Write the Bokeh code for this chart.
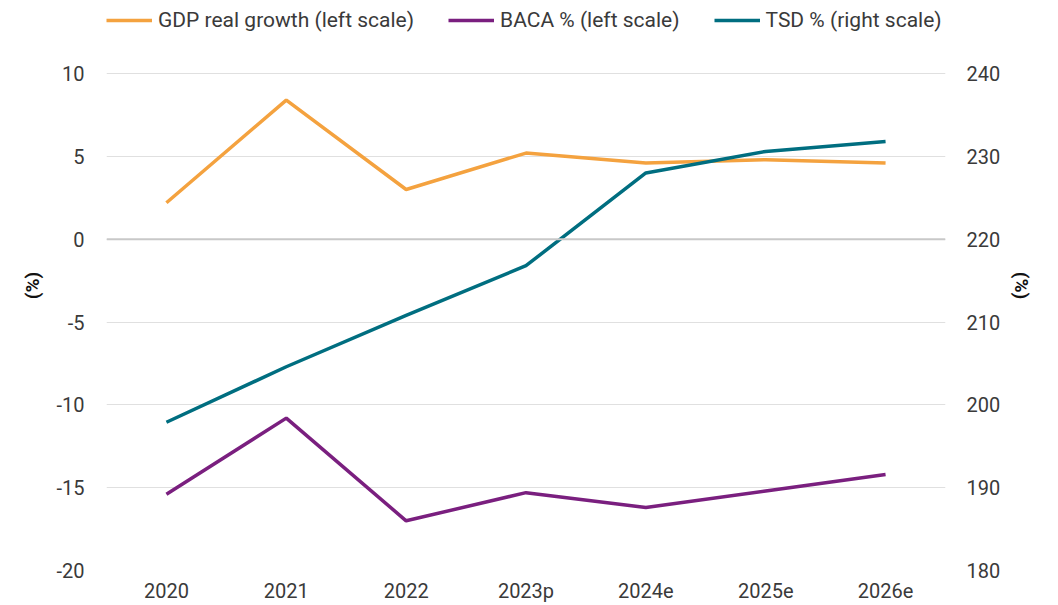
from bokeh.plotting import figure
from bokeh.models import LinearAxis, Range1d, Legend, LegendItem, Span, FixedTicker
from bokeh.embed import file_html
from bokeh.resources import INLINE

categories = ["2020", "2021", "2022", "2023p", "2024e", "2025e", "2026e"]
gdp_growth = [2.2, 8.4, 3.0, 5.2, 4.6, 4.8, 4.6]
baca = [-15.4, -10.8, -17.0, -15.3, -16.2, -15.2, -14.2]
tsd = [197.9, 204.6, 210.8, 216.8, 228.0, 230.6, 231.8]
left_ticks = [-20, -15, -10, -5, 0, 5, 10]
right_ticks = [180, 190, 200, 210, 220, 230, 240]

FONT = "Roboto"
TXT = "#3a3a3a"
FS = "20px"

# frame spans the full height above the x axis; the headroom above 10 / 240 holds the legend
p = figure(x_range=categories, y_range=Range1d(-20, 14.41), width=1058, height=605,
           output_backend="svg", toolbar_location=None,
           min_border_left=106, min_border_right=113, min_border_top=0, min_border_bottom=35)
p.extra_y_ranges = {"right": Range1d(180, 248.82)}
p.outline_line_color = None
p.background_fill_color = "white"

p.yaxis.ticker = FixedTicker(ticks=left_ticks)
p.yaxis.major_label_overrides = {t: str(t) for t in left_ticks}
p.yaxis.axis_label = "(%)"
for ax in [p.xaxis[0], p.yaxis[0]]:
    ax.axis_line_color = None
    ax.major_tick_line_color = None
    ax.minor_tick_line_color = None
    ax.major_label_text_font = FONT
    ax.major_label_text_font_size = FS
    ax.major_label_text_color = TXT
p.xaxis.major_label_standoff = 2
p.yaxis.major_label_standoff = 16
p.yaxis.axis_label_text_font = FONT
p.yaxis.axis_label_text_font_size = "19px"
p.yaxis.axis_label_text_font_style = "bold"
p.yaxis.axis_label_text_color = "#111111"
p.yaxis.axis_label_standoff = 9

ra = LinearAxis(y_range_name="right", ticker=FixedTicker(ticks=right_ticks), axis_label="(%)")
ra.axis_line_color = None
ra.major_tick_line_color = None
ra.minor_tick_line_color = None
ra.major_label_text_font = FONT
ra.major_label_text_font_size = FS
ra.major_label_text_color = TXT
ra.major_label_standoff = 15
ra.axis_label_text_font = FONT
ra.axis_label_text_font_size = "19px"
ra.axis_label_text_font_style = "bold"
ra.axis_label_text_color = "#111111"
ra.axis_label_standoff = 7
p.add_layout(ra, "right")

p.xgrid.grid_line_color = None
p.ygrid.grid_line_color = "#e0e0e0"
p.ygrid.grid_line_width = 1

p.add_layout(Span(location=0, dimension="width", line_color="#c8c8c8", line_width=2))

r1 = p.line(categories, gdp_growth, line_color="#F4A23F", line_width=3.5)
r2 = p.line(categories, baca, line_color="#7A1F7F", line_width=3.5)
r3 = p.line(categories, tsd, line_color="#006E80", line_width=3.5, y_range_name="right")

legend = Legend(items=[LegendItem(label="GDP real growth (left scale)", renderers=[r1]),
                       LegendItem(label="BACA % (left scale)", renderers=[r2]),
                       LegendItem(label="TSD % (right scale)", renderers=[r3])],
                orientation="horizontal", location=(0, 538))
legend.glyph_width = 46
legend.glyph_height = 20
legend.label_standoff = 6
legend.spacing = 34
legend.padding = 0
legend.margin = 0
legend.border_line_color = None
legend.background_fill_alpha = 0
legend.label_text_font = FONT
legend.label_text_font_size = "21px"
legend.label_text_color = TXT
p.add_layout(legend, "center")

open("out.html", "w").write(file_html(p, INLINE))
